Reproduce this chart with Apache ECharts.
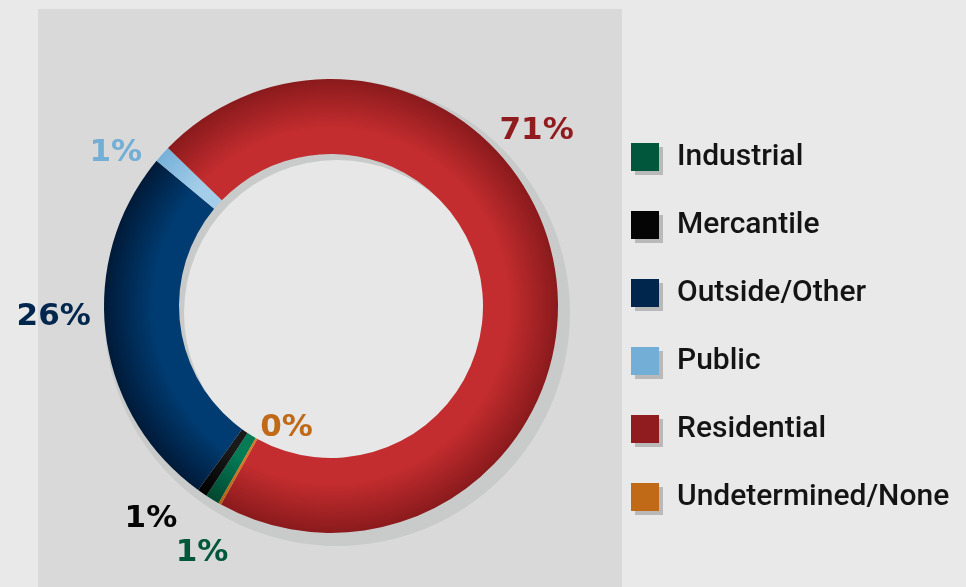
<!DOCTYPE html>
<html>
<head>
<meta charset="utf-8">
<script src="https://cdn.jsdelivr.net/npm/echarts@6/dist/echarts.min.js"></script>
<style>
html, body { margin: 0; padding: 0; background: #e9e9e9; }
#chart { width: 966px; height: 587px; }
</style>
</head>
<body>
<div id="chart"></div>
<script>
// data
var categories = ['Industrial', 'Mercantile', 'Outside/Other', 'Public', 'Residential', 'Undetermined/None'];
var shares = [1.0, 0.7, 26.1, 1.2, 70.8, 0.2];

// colours: flat (legend, labels), light (inner edge of ring), dark (outer edge)
var flatColors = ['#00573c', '#050505', '#00264d', '#72aed6', '#901c1f', '#c06a17'];
var lightColors = ['#047a55', '#1a1a1a', '#003c72', '#a3cde8', '#c42d2f', '#d27a22'];
var darkColors = ['#00472f', '#000000', '#001a38', '#76b0d9', '#8a1a1c', '#b06012'];

// label nudges from the default outside spot
var labelShift = [[16, 53], [-25, 26], [-15, -17], [-20, -1], [-56, -142], [93, -76]];

var cx = 331, cy = 306, rOut = 227, rIn = 152;

function ringGradient(i) {
  return {
    type: 'radial', x: cx, y: cy, r: rOut, global: true,
    colorStops: [
      { offset: rIn / rOut, color: lightColors[i] },
      { offset: 0.78, color: lightColors[i] },
      { offset: 1, color: darkColors[i] }
    ]
  };
}

var pieData = categories.map(function (name, i) {
  return {
    name: name,
    value: shares[i],
    itemStyle: { color: ringGradient(i) },
    label: { color: flatColors[i] }
  };
});

var legendData = categories.map(function (name, i) {
  return { name: name, itemStyle: { color: flatColors[i] } };
});

var myChart = echarts.init(document.getElementById('chart'));

var option = {
  backgroundColor: '#e9e9e9',
  animation: false,
  graphic: [{
    type: 'rect', z: -10, silent: true,
    shape: { x: 38, y: 9, width: 584, height: 580 },
    style: { fill: '#d9d9d9' }
  }],
  legend: {
    orient: 'vertical',
    left: 631,
    top: 142,
    padding: 0,
    itemWidth: 28,
    itemHeight: 28,
    itemGap: 38,
    icon: 'rect',
    selectedMode: false,
    data: legendData,
    itemStyle: { shadowColor: '#b9b9b9', shadowOffsetX: 4, shadowOffsetY: 4, shadowBlur: 0 },
    textStyle: {
      fontFamily: 'Roboto',
      fontSize: 30,
      fontWeight: 500,
      color: '#141414',
      lineHeight: 28,
      padding: [0, 0, 0, 13]
    }
  },
  series: [
    {
      // light disc in the hole
      type: 'pie', silent: true, center: [cx, cy], radius: [0, rIn],
      label: { show: false }, labelLine: { show: false },
      itemStyle: { color: '#e7e7e7' },
      data: [{ value: 1, name: 'hole' }],
      z: 1
    },
    {
      // flat offset shadow of the ring
      type: 'pie', silent: true, center: [cx + 6, cy + 7], radius: [rIn + 1, rOut + 6],
      label: { show: false }, labelLine: { show: false },
      itemStyle: { color: '#c9cbca' },
      data: [{ value: 1, name: 'shadow' }],
      z: 2
    },
    {
      type: 'pie',
      center: [cx, cy],
      radius: [rIn, rOut],
      startAngle: 240.3,
      clockwise: true,
      avoidLabelOverlap: false,
      percentPrecision: 0,
      z: 3,
      label: {
        show: true,
        position: 'outside',
        formatter: '{d}%',
        fontFamily: 'DejaVu Sans',
        fontWeight: 'bold',
        fontSize: 31,
        distanceToLabelLine: 0
      },
      labelLine: { show: false, length: 0, length2: 0 },
      labelLayout: function (params) {
        var s = labelShift[params.dataIndex];
        return { dx: s[0], dy: s[1] };
      },
      data: pieData
    }
  ]
};

myChart.setOption(option);
</script>
</body>
</html>
